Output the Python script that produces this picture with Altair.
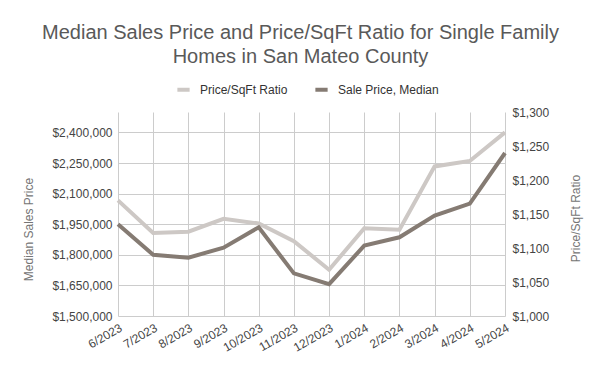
import altair as alt
import pandas as pd

months = ["6/2023", "7/2023", "8/2023", "9/2023", "10/2023", "11/2023",
          "12/2023", "1/2024", "2/2024", "3/2024", "4/2024", "5/2024"]
sale_price = [1950000, 1800000, 1786000, 1835000, 1935000, 1709000,
              1656000, 1845000, 1886000, 1992000, 2051000, 2299000]
price_sqft = [1170, 1122, 1124, 1143, 1136, 1110,
              1068, 1129, 1127, 1220, 1228, 1270]
series_names = ["Price/SqFt Ratio", "Sale Price, Median"]
series_colors = ["#cdc8c5", "#857b73"]
left_ticks = [1500000, 1650000, 1800000, 1950000, 2100000, 2250000, 2400000]
left_domain = [1500000, 2500000]
right_ticks = [1000, 1050, 1100, 1150, 1200, 1250, 1300]
right_domain = [1000, 1300]

df_ratio = pd.DataFrame({"month": months, "value": price_sqft, "series": series_names[0]})
df_price = pd.DataFrame({"month": months, "value": sale_price, "series": series_names[1]})

FONT = "Liberation Sans"

x_enc = alt.X("month:N", sort=months, title=None,
              scale=alt.Scale(type="point", padding=0),
              axis=alt.Axis(labelAngle=-30, labelAlign="right", labelBaseline="top",
                            labelFontSize=12, labelColor="#444444", labelPadding=6,
                            grid=True, gridColor="#cccccc", ticks=False, domain=False,
                            labelFont=FONT))

color_enc = alt.Color("series:N",
                      scale=alt.Scale(domain=series_names, range=series_colors),
                      legend=alt.Legend(title=None, orient="none", direction="horizontal",
                                        legendX=57, legendY=-31, symbolType="stroke",
                                        symbolStrokeWidth=4, symbolSize=150,
                                        labelFontSize=12, labelColor="#333333",
                                        labelFont=FONT, columnPadding=19, labelOffset=8,
                                        padding=0))

ratio = alt.Chart(df_ratio).mark_line(strokeWidth=4).encode(
    x=x_enc,
    y=alt.Y("value:Q", title="Price/SqFt Ratio",
            scale=alt.Scale(domain=right_domain, nice=False, zero=False),
            axis=alt.Axis(orient="right", values=right_ticks, format="$,.0f",
                          grid=False, ticks=False, domain=False,
                          labelFontSize=12, labelColor="#444444", labelPadding=7,
                          labelFont=FONT, titleFont=FONT,
                          titleFontSize=12, titleColor="#757575", titleFontWeight="normal",
                          titleX=70, titleY=106, titleAngle=-90,
                          titleAlign="center", titleBaseline="middle")),
    color=color_enc,
)

price = alt.Chart(df_price).mark_line(strokeWidth=4).encode(
    x=x_enc,
    y=alt.Y("value:Q", title="Median Sales Price",
            scale=alt.Scale(domain=left_domain, nice=False, zero=False),
            axis=alt.Axis(orient="left", values=left_ticks, format="$,.0f",
                          grid=True, gridColor="#cccccc", ticks=False, domain=False,
                          labelFontSize=12, labelColor="#444444", labelPadding=6,
                          labelFont=FONT, titleFont=FONT,
                          titleFontSize=12, titleColor="#757575", titleFontWeight="normal",
                          titleX=-90, titleY=117, titleAngle=-90,
                          titleAlign="center", titleBaseline="middle")),
    color=color_enc,
)

chart = alt.layer(ratio, price).resolve_scale(y="independent", color="shared").properties(
    width=387, height=204,
    autosize=alt.AutoSizeParams(type="none"),
    padding={"left": 110, "top": 104, "right": 87, "bottom": 47},
    title=alt.TitleParams(
        text=["Median Sales Price and Price/SqFt Ratio for Single Family",
              "Homes in San Mateo County"],
        fontSize=20, font=FONT, color="#595959", fontWeight="normal",
        anchor="middle", frame="group", dx=-11, lineHeight=24, offset=14,
    ),
).configure_view(stroke=None)

chart.save("out.html", embed_options={"renderer": "svg", "actions": False})
